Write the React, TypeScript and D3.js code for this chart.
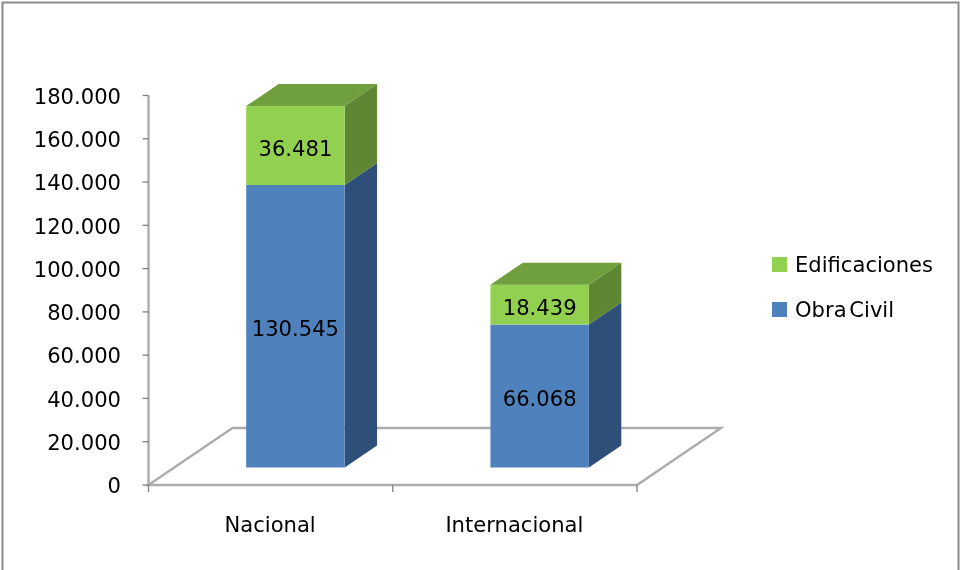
import React from "react";
import * as d3 from "d3";

const categories = ["Nacional", "Internacional"];
const obraCivil = [130545, 66068];
const edificaciones = [36481, 18439];
const seriesNames = ["Obra Civil", "Edificaciones"];
const tickValues = [0, 20000, 40000, 60000, 80000, 100000, 120000, 140000, 160000, 180000];

const WIDTH = 961;
const HEIGHT = 570;
const FONT = "'DejaVu Sans', sans-serif";
const FONT_SIZE = 21.1;
const floorDx = 84;
const floorDy = 57;
const depthFront = 0.307;
const depthBack = 0.693;
const barRatio = 0.403;
const barShift = -1;

const palette = [
  { front: "#4F81BD", side: "#2F5077", top: "#3F6797" },
  { front: "#92D14F", side: "#5E8631", top: "#6F9F3C" },
];

const fmt = (v: number) => d3.format(",")(v).replace(/,/g, ".");

export default function App() {
  const y = d3.scaleLinear().domain([0, 180000]).range([485, 95.5]);
  const x = d3.scaleBand<string>().domain(categories).range([148.5, 637]).padding(0);
  const rows = categories.map((c, i) => ({ c, o: obraCivil[i], e: edificaciones[i] }));
  const stacked = d3.stack<any>().keys(["o", "e"])(rows);

  const px = (vx: number, depth: number) => vx + depth * floorDx;
  const py = (v: number, depth: number) => y(v) - depth * floorDy;
  const line = d3.line();
  const poly = (pts: [number, number][]) => line(pts) + "Z";
  const bw = x.bandwidth() * barRatio;
  const barX = (c: string) => (x(c) as number) + (x.bandwidth() - bw) / 2 + barShift;

  const x0 = x.range()[0];
  const x1 = x.range()[1];

  return (
    <svg
      width={WIDTH}
      height={HEIGHT}
      style={{ position: "absolute", left: 0, top: 0, background: "#fff" }}
      fontFamily={FONT}
    >
      <defs>
        <filter id="soft" x="-5%" y="-5%" width="110%" height="110%">
          <feGaussianBlur stdDeviation="0.55" />
        </filter>
        <filter id="softText" x="-5%" y="-5%" width="110%" height="110%">
          <feGaussianBlur stdDeviation="0.25" />
        </filter>
      </defs>
      <path
        d={`M2.5,${HEIGHT} V2.5 H958.5 V${HEIGHT}`}
        fill="none"
        stroke="#8c8c8c"
        strokeWidth={2}
      />

      <g filter="url(#soft)">
        {/* floor */}
        <path
          d={poly([
            [px(x0, 0), y(0)],
            [px(x0, 1), py(0, 1)],
            [px(x1, 1), py(0, 1)],
            [px(x1, 0), y(0)],
          ])}
          fill="#fff"
          stroke="#acacac"
          strokeWidth={2.4}
        />
        {/* axes */}
        <line x1={x0} x2={x0} y1={y(180000)} y2={y(0)} stroke="#acacac" strokeWidth={2.4} />
        {tickValues.map((t) => (
          <line key={t} x1={x0 - 6} x2={x0} y1={y(t)} y2={y(t)} stroke="#808080" strokeWidth={1.3} />
        ))}
        {[...categories.map((c) => x(c) as number), x1].map((t) => (
          <line key={t} x1={t} x2={t} y1={y(0)} y2={y(0) + 7} stroke="#808080" strokeWidth={1.3} />
        ))}

        {/* bars */}
        {categories.map((c, ci) => {
          const l = barX(c);
          const r = l + bw;
          const totalTop = stacked[stacked.length - 1][ci][1];
          return (
            <g key={c}>
              {stacked.map((s, si) => {
                const [v0, v1] = s[ci] as unknown as [number, number];
                return (
                  <g key={s.key}>
                    <path
                      d={poly([
                        [px(r, depthFront), py(v0, depthFront)],
                        [px(r, depthBack), py(v0, depthBack)],
                        [px(r, depthBack), py(v1, depthBack)],
                        [px(r, depthFront), py(v1, depthFront)],
                      ])}
                      fill={palette[si].side}
                    />
                    <rect
                      x={px(l, depthFront)}
                      y={py(v1, depthFront)}
                      width={bw}
                      height={py(v0, depthFront) - py(v1, depthFront)}
                      fill={palette[si].front}
                    />
                  </g>
                );
              })}
              <path
                d={poly([
                  [px(l, depthFront), py(totalTop, depthFront)],
                  [px(l, depthBack), py(totalTop, depthBack)],
                  [px(r, depthBack), py(totalTop, depthBack)],
                  [px(r, depthFront), py(totalTop, depthFront)],
                ])}
                fill={palette[1].top}
              />
            </g>
          );
        })}
      </g>

      <g filter="url(#softText)">
        {/* data labels */}
        {categories.map((c, ci) =>
          stacked.map((s) => {
            const [v0, v1] = s[ci] as unknown as [number, number];
            return (
              <text
                key={c + s.key}
                x={px(barX(c), depthFront) + bw / 2}
                y={(py(v0, depthFront) + py(v1, depthFront)) / 2 + 10}
                textAnchor="middle"
                fontSize={FONT_SIZE}
                fill="#000"
              >
                {fmt(v1 - v0)}
              </text>
            );
          })
        )}

        {/* y tick labels */}
        {tickValues.map((t) => (
          <text key={t} x={121} y={y(t) + 8.2} textAnchor="end" fontSize={FONT_SIZE} fill="#000">
            {fmt(t)}
          </text>
        ))}

        {/* x labels */}
        {categories.map((c) => (
          <text
            key={c}
            x={(x(c) as number) + x.bandwidth() / 2 - 0.5}
            y={532}
            textAnchor="middle"
            fontSize={FONT_SIZE}
            fill="#000"
          >
            {c}
          </text>
        ))}

        {/* legend text */}
        {[1, 0].map((si, i) => (
          <text key={si} x={795} y={272 + i * 45} fontSize={FONT_SIZE} wordSpacing={-4} fill="#000">
            {seriesNames[si]}
          </text>
        ))}
      </g>

      {/* legend swatches */}
      {[1, 0].map((si, i) => (
        <rect key={si} x={772} y={257 + i * 45} width={15} height={15} fill={palette[si].front} />
      ))}
    </svg>
  );
}
